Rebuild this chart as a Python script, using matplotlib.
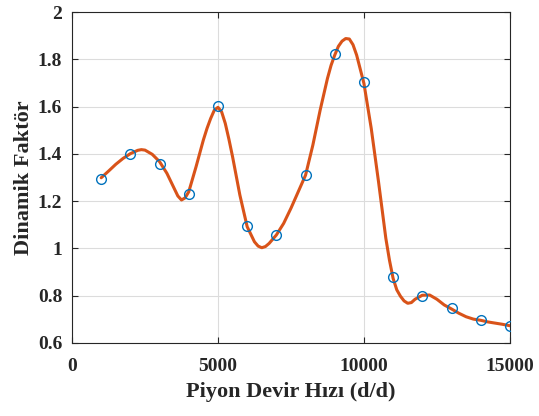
import matplotlib.pyplot as plt

# measured points
speed = [1000, 2000, 3000, 4000, 5000, 6000, 7000, 8000, 9000, 10000,
         11000, 12000, 13000, 14000, 15000]
factor = [1.294, 1.400, 1.357, 1.229, 1.603, 1.095, 1.057, 1.310, 1.822, 1.703,
          0.878, 0.797, 0.748, 0.697, 0.673]

# smooth curve (denser around the turns)
curve_x = [1000, 1250, 1500, 1750, 2000, 2250, 2375, 2500, 2750, 3000, 3250,
           3500, 3625, 3750, 3875, 4000, 4250, 4500, 4625, 4750, 4875, 5000, 5125, 5250, 5375, 5500, 5750,
           6000, 6250, 6375, 6500, 6625, 6750, 7000, 7250, 7500, 7750, 8000, 8250,
           8500, 8750, 8875, 9000, 9125, 9250, 9375, 9500, 9625, 9750, 10000, 10250, 10500, 10750,
           10875, 11000, 11125, 11250, 11375, 11500, 11625, 11750, 12000, 12250, 12500, 12750, 13000, 13250,
           13500, 13750, 14000, 14250, 14500, 14750, 15000]
curve_y = [1.299, 1.327, 1.356, 1.381, 1.401, 1.415, 1.418, 1.416, 1.398, 1.367, 1.318,
           1.254, 1.222, 1.205, 1.214, 1.240, 1.346, 1.459, 1.508, 1.550, 1.585, 1.597, 1.578, 1.529, 1.462, 1.388, 1.226,
           1.092, 1.028, 1.010, 1.003, 1.008, 1.021, 1.057, 1.106, 1.170, 1.240, 1.310, 1.437,
           1.585, 1.719, 1.775, 1.818, 1.855, 1.877, 1.888, 1.886, 1.862, 1.818, 1.698, 1.508, 1.282, 1.043,
           0.950, 0.873, 0.825, 0.798, 0.778, 0.768, 0.771, 0.785, 0.802, 0.803, 0.785, 0.761, 0.744, 0.726,
           0.711, 0.701, 0.696, 0.689, 0.684, 0.679, 0.673]

plt.rcParams['font.family'] = ['Liberation Serif', 'DejaVu Serif']
plt.rcParams['font.weight'] = 'bold'

fig = plt.figure(figsize=(5.39, 4.16), dpi=100)
ax = fig.add_axes([0.1336, 0.1755, 0.8124, 0.7955])

ax.plot(curve_x, curve_y, color="#D95319", linewidth=2.2, solid_capstyle="round",
        solid_joinstyle="round", zorder=3)
ax.plot(speed, factor, linestyle="none", marker="o", markersize=7, markerfacecolor="none",
        markeredgecolor="#0072BD", markeredgewidth=1, zorder=4)

ax.set_xlim(0, 15000)
ax.set_ylim(0.6, 2)
ax.set_xticks([0, 5000, 10000, 15000])
ax.set_yticks([0.6, 0.8, 1.0, 1.2, 1.4, 1.6, 1.8, 2.0])
ax.set_yticklabels(["0.6", "0.8", "1", "1.2", "1.4", "1.6", "1.8", "2"])

ax.grid(True, color="#dcdcdc", linewidth=0.8)
ax.set_axisbelow(True)
for s in ax.spines.values():
    s.set_color("#262626")
    s.set_linewidth(0.8)
ax.tick_params(direction="in", top=True, right=True, length=4, width=0.8,
               colors="#262626", labelsize=14)
ax.tick_params(axis="x", pad=11)
ax.tick_params(axis="y", pad=7)
for lab in ax.get_xticklabels() + ax.get_yticklabels():
    lab.set_fontweight("bold")

ax.set_xlabel("Piyon Devir Hızı (d/d)", fontsize=16, fontweight="bold", color="#262626", labelpad=5)
ax.set_ylabel("Dinamik Faktör", fontsize=16, fontweight="bold", color="#262626", labelpad=3)

fig.savefig("out.png", dpi=100)
